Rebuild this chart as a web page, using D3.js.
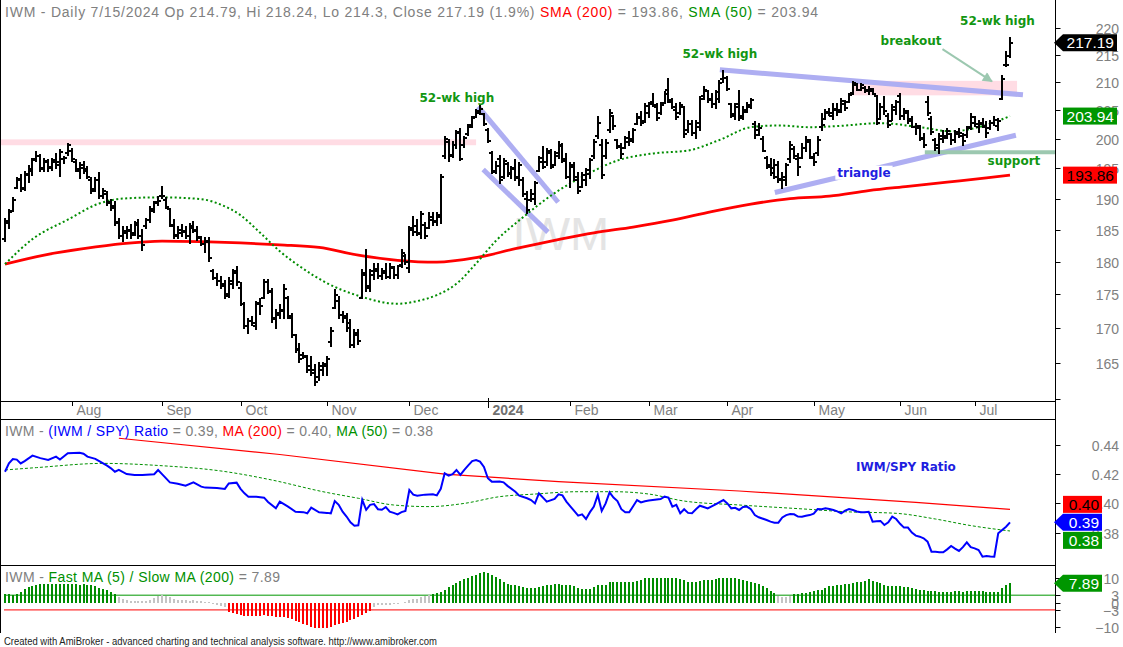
<!DOCTYPE html>
<html>
<head>
<meta charset="utf-8">
<script src="https://cdn.jsdelivr.net/npm/d3@7"></script>
<style>
  body { margin: 0; background: #fff; overflow: hidden; }
  svg { display: block; }
</style>
</head>
<body>
<svg id="chart"></svg>
<script>
// daily bars, 7 Jul 2023 .. 15 Jul 2024 (one row per month)
const opens = [
  183.5,186.0,188.0,191.8,193.2,191.8,193.8,194.5,196.5,197.0,195.0,196.0,195.2,196.0,196.0,196.5,197.5,
  198.0,196.0,194.5,195.0,194.8,193.0,191.5,193.0,190.5,190.8,189.5,188.8,186.2,184.0,184.5,184.8,184.5,185.8,184.0,185.5,186.5,188.0,189.5,
  190.5,189.8,188.3,185.5,184.0,184.5,184.8,184.0,185.2,185.0,183.8,182.8,183.0,178.5,177.5,177.0,176.5,175.0,176.5,178.5,
  176.0,173.5,170.3,171.0,170.3,173.5,174.5,176.8,175.5,171.5,172.0,172.5,174.5,171.5,169.0,167.0,166.2,165.8,164.5,164.0,163.0,164.0,
  164.5,168.0,173.0,174.0,172.0,171.8,170.8,167.5,169.0,174.5,178.0,176.0,178.0,178.5,177.8,178.3,177.6,179.0,178.0,179.5,180.8,
  179.0,185.0,185.5,184.3,185.8,185.3,186.5,186.2,187.0,197.0,199.5,197.2,199.0,201.0,199.0,200.8,202.0,203.8,204.5,204.3,
  201.5,197.5,194.5,196.5,193.5,195.8,194.2,195.0,193.5,193.0,190.0,189.8,190.0,194.5,196.0,196.0,197.5,195.6,197.0,198.8,196.2,
  193.5,195.2,193.0,191.9,193.0,194.0,197.0,200.5,199.0,197.0,201.5,204.0,199.8,198.8,198.5,199.5,200.0,202.6,203.6,203.0,
  204.5,206.5,205.5,204.5,206.2,208.5,206.8,205.0,204.5,205.5,201.5,202.5,201.0,202.0,207.5,208.4,207.0,206.0,207.0,210.5,
  210.8,206.0,204.0,206.0,204.0,205.0,205.5,202.5,201.5,200.0,196.8,195.6,195.0,195.5,193.0,193.0,196.5,198.3,196.5,196.8,198.5,199.5,
  196.8,197.6,202.0,203.5,204.5,204.5,205.0,205.0,206.0,206.5,208.0,209.5,208.6,209.0,208.5,208.4,207.5,203.5,205.5,204.0,203.0,205.0,
  207.5,204.0,204.5,203.5,202.0,201.8,200.2,206.5,203.5,199.8,199.0,200.0,200.5,200.8,199.8,200.8,200.5,200.6,202.0,
  203.8,202.0,202.5,202.0,201.8,202.8,202.2,207.0,213.0,214.79
];
const highs = [
  186.8,188.3,190.2,193.5,194.0,194.5,195.5,196.8,197.9,197.4,196.8,196.5,196.8,197.6,198.2,197.1,199.3,
  198.4,196.5,196.0,196.2,195.4,193.5,193.5,194.3,191.8,191.2,189.9,189.6,186.9,185.6,185.6,185.9,186.4,186.7,185.1,186.9,188.8,189.6,190.4,
  192.0,190.2,188.5,186.7,185.6,185.9,185.6,186.1,186.4,185.6,184.0,183.8,183.8,178.8,178.3,177.8,177.1,177.6,178.8,179.3,
  176.8,173.8,171.5,171.8,174.0,174.5,177.3,177.3,176.0,172.8,173.5,176.5,174.8,172.3,169.2,167.8,166.6,166.2,166.0,164.8,165.2,165.2,
  166.0,170.1,175.8,174.8,172.5,172.3,171.3,169.9,169.9,178.8,181.9,178.8,179.8,179.8,179.0,179.8,179.8,179.3,179.5,181.9,181.2,
  185.6,187.2,186.7,188.0,186.2,187.8,187.8,187.8,194.0,200.5,199.9,199.6,201.6,201.9,200.5,202.6,203.9,205.1,205.9,204.5,
  201.9,197.9,196.2,197.3,196.8,196.0,195.4,196.5,196.0,193.5,191.2,191.5,192.9,197.1,198.8,198.5,198.2,197.9,199.6,199.3,197.6,
  196.0,196.0,194.3,194.3,195.1,196.8,199.9,203.9,199.9,199.9,205.1,204.2,199.9,199.3,200.5,201.3,201.9,204.5,204.8,206.2,
  206.5,208.0,206.2,206.5,208.3,210.7,207.1,206.2,206.5,205.7,203.3,203.3,203.3,207.4,209.2,208.6,208.0,208.6,210.4,212.2,
  211.0,206.2,206.2,208.6,205.7,206.5,207.1,203.0,202.7,200.5,197.1,196.8,196.5,196.2,194.3,195.9,199.6,198.8,197.6,199.3,200.5,199.9,
  197.6,200.5,204.5,205.1,205.4,206.2,206.2,207.1,206.8,208.0,210.1,209.8,209.8,209.2,209.2,208.9,207.7,206.2,207.4,204.5,206.0,206.8,
  208.0,205.4,205.0,204.0,202.7,202.4,201.0,207.4,204.0,200.2,201.0,201.6,201.9,201.0,201.6,201.9,201.0,202.2,204.5,
  204.0,203.3,203.6,203.0,203.3,204.0,203.6,211.3,215.6,218.24
];
const lows = [
  183.0,185.1,187.8,191.5,191.0,191.2,192.5,193.7,196.0,194.3,194.3,194.3,194.6,194.8,193.5,195.7,197.1,
  196.0,194.3,193.2,194.0,193.2,190.7,191.0,189.9,189.9,188.8,188.0,185.6,183.5,183.0,183.5,183.5,184.0,183.5,181.7,185.1,186.1,187.7,188.8,
  189.9,188.3,185.4,183.5,183.5,183.9,183.5,182.7,184.5,183.2,182.4,181.4,179.9,177.1,176.3,175.8,174.3,174.5,175.8,176.3,
  173.3,169.9,169.2,170.3,169.7,172.0,174.3,175.0,170.8,169.9,171.3,171.3,171.3,168.5,166.4,165.0,165.5,163.6,163.1,161.8,162.4,163.1,
  163.1,167.3,172.8,171.3,170.8,169.4,167.1,167.1,167.6,174.3,175.3,175.3,177.1,177.3,177.1,177.3,177.3,177.3,177.3,179.0,179.5,
  178.3,184.0,184.0,183.5,183.5,185.1,185.6,185.6,185.9,196.5,196.0,196.8,198.2,196.2,198.5,200.5,201.9,203.6,204.2,202.2,
  199.3,194.0,194.0,192.4,193.2,193.5,193.2,192.9,192.0,190.2,187.5,189.4,188.9,194.3,194.8,195.4,194.8,195.4,196.5,195.9,193.2,
  191.8,192.9,190.7,191.8,192.1,193.2,196.5,199.9,193.2,196.5,201.0,201.6,198.2,196.5,198.2,198.8,199.3,202.4,202.2,202.7,
  203.6,205.6,203.1,204.2,206.0,206.2,205.1,203.3,204.2,200.2,201.0,200.5,199.9,201.3,206.8,206.2,205.4,205.1,206.2,209.8,
  208.3,203.6,203.3,203.0,203.3,204.5,205.1,199.9,200.5,197.7,194.8,193.7,193.2,192.6,191.5,192.0,195.9,196.5,193.7,196.5,197.7,196.5,
  195.4,197.1,201.3,203.3,203.9,203.3,203.9,204.5,204.8,206.2,207.7,208.3,208.3,208.0,207.7,207.7,202.4,203.3,204.2,201.9,203.0,204.2,
  203.3,203.3,202.5,201.8,200.7,199.6,198.5,203.9,200.7,197.9,197.4,199.3,199.9,199.0,199.3,200.2,198.8,200.2,201.6,
  202.0,201.0,201.9,200.2,201.6,202.2,201.3,206.8,212.8,214.3
];
const closes = [
  186.3,187.9,189.8,193.0,191.6,194.0,194.9,196.4,197.0,194.8,196.2,195.0,196.4,195.5,197.8,196.8,198.9,
  196.5,194.8,195.5,194.5,193.6,191.3,193.0,190.5,191.2,189.3,188.5,186.0,184.0,184.8,185.0,184.2,186.0,184.0,182.5,186.5,188.3,189.2,189.6,
  190.4,188.6,185.8,184.2,185.0,184.6,184.0,185.5,184.8,183.6,182.8,183.2,180.5,177.5,177.0,176.2,174.8,177.0,178.2,176.8,
  173.6,170.3,171.0,170.8,173.7,173.2,176.9,175.4,171.3,172.3,172.6,175.8,171.8,169.0,166.8,165.6,166.0,164.0,163.6,162.3,164.6,164.8,
  165.6,169.6,174.9,172.0,171.5,170.0,167.6,169.3,168.2,178.3,176.3,178.5,178.9,177.8,178.5,177.6,179.2,177.9,179.3,181.4,180.0,
  185.2,184.6,184.4,187.5,184.0,187.0,186.3,187.3,193.6,200.0,197.0,199.0,201.2,196.6,200.2,202.3,203.6,204.8,205.2,202.6,
  199.6,194.3,195.4,193.0,196.3,194.0,194.8,193.4,195.5,190.8,188.2,190.8,192.5,196.8,195.3,198.0,195.3,197.5,198.9,196.5,193.6,
  195.6,193.5,191.2,193.8,194.7,196.4,199.5,202.8,193.8,199.3,204.5,202.2,198.6,197.4,200.1,199.6,201.5,203.8,202.7,205.7,
  206.0,205.8,203.6,205.9,207.8,206.5,205.6,203.8,205.9,200.8,202.6,201.0,202.8,206.9,208.6,206.8,206.0,208.2,209.9,210.8,
  208.8,204.3,205.6,203.6,204.6,205.9,206.7,200.6,201.8,198.0,195.2,194.2,193.6,193.2,193.6,195.5,199.0,197.0,195.2,198.5,199.8,196.9,
  196.0,199.8,202.3,204.6,204.0,205.2,204.6,206.6,205.3,207.6,209.8,208.6,209.5,208.4,208.8,207.9,202.8,205.6,204.8,202.3,205.6,206.5,
  204.0,204.8,203.0,202.0,202.2,200.0,199.0,204.4,201.2,198.5,200.4,200.2,201.3,199.8,201.2,201.0,199.6,201.8,202.8,
  202.5,202.8,202.2,201.0,202.8,203.3,203.0,210.5,213.1,217.19
];

// moving averages: [bar index, value]
const sma200 = [[0,179.6],[10,181.0],[20,182.0],[30,182.8],[40,183.2],[50,183.1],[60,182.9],[70,182.6],[80,182.2],
  [90,181.0],[100,180.2],[110,179.9],[120,180.6],[130,182.0],[140,183.3],[150,184.5],[160,185.4],[170,186.5],
  [180,187.9],[190,189.1],[200,190.0],[210,190.4],[220,191.3],[230,192.0],[240,192.7],[250,193.4],[256,193.86]];
const sma50 = [[0,179.6],[7,183.5],[16,186.6],[24,189.2],[30,190.0],[40,190.2],[50,189.9],[55,189.0],[60,187.3],
  [65,184.5],[70,181.6],[75,179.3],[82,176.7],[90,174.8],[100,173.6],[105,174.0],[110,174.9],[115,176.6],
  [120,179.7],[125,183.2],[132,187.0],[140,190.9],[148,193.9],[156,196.3],[165,197.5],[174,198.0],[182,199.8],
  [190,202.0],[197,202.3],[205,202.0],[212,202.2],[223,202.7],[233,202.0],[241,201.3],[250,202.4],[256,203.94]];

// IWM / SPY ratio
const ratio = [[0,.4217],[1,.4274],[2,.4304],[3,.4300],[4,.4274],[5,.4290],[7,.4327],[9,.4310],[11,.4297],[13,.4320],
  [14,.4300],[16,.4343],[19,.4347],[20,.4340],[21,.4320],[23,.4305],[24,.4290],[26,.4258],[27,.4240],[28,.4217],
  [29,.4229],[31,.4201],[33,.4195],[35,.4195],[38,.4200],[39,.4229],[40,.4200],[42,.4144],[44,.4135],[46,.4121],
  [48,.4144],[50,.4115],[51,.4108],[54,.4105],[56,.4099],[57,.4137],[59,.4142],[60,.4100],[61,.4069],[62,.4046],
  [64,.4045],[66,.4039],[67,.4010],[69,.3966],[70,.4012],[72,.3980],[74,.3943],[76,.3940],[77,.3932],[78,.3971],
  [80,.3939],[82,.3935],[83,.3932],[84,.4016],[85,.3990],[86,.3943],[87,.3910],[88,.3870],[89,.3847],[90,.3850],
  [91,.4024],[92,.3956],[93,.3990],[94,.3995],[95,.3960],[96,.3956],[97,.3975],[98,.3943],[99,.3935],[100,.3925],
  [101,.3940],[102,.3948],[103,.4092],[104,.4060],[105,.4053],[107,.4060],[109,.4062],[110,.4055],[111,.4100],
  [112,.4206],[113,.4190],[114,.4200],[115,.4229],[116,.4195],[117,.4230],[118,.4260],[119,.4290],[120,.4297],
  [121,.4286],[122,.4250],[123,.4172],[124,.4149],[126,.4150],[127,.4144],[128,.4120],[130,.4080],[131,.4053],
  [133,.4035],[134,.4023],[135,.4000],[136,.4069],[138,.4012],[140,.4030],[141,.4062],[142,.4055],[143,.4012],
  [144,.3980],[146,.3916],[147,.3925],[148,.3893],[149,.3940],[150,.3978],[151,.4058],[152,.3948],[153,.4000],
  [154,.4076],[155,.4040],[156,.4016],[157,.3960],[158,.3939],[159,.3939],[160,.3980],[161,.4023],[162,.4007],
  [163,.4015],[164,.4020],[165,.4023],[167,.4030],[168,.4046],[169,.4040],[170,.3978],[171,.3990],[172,.3932],
  [173,.3960],[174,.3935],[175,.3932],[176,.3960],[177,.3984],[178,.3975],[179,.3966],[180,.3980],[181,.3994],
  [183,.4023],[184,.4000],[185,.3966],[186,.3970],[187,.3955],[188,.3975],[189,.3978],[190,.3960],[191,.3920],
  [192,.3905],[194,.3886],[195,.3875],[196,.3868],[197,.3868],[198,.3904],[199,.3920],[200,.3927],[201,.3925],
  [202,.3910],[203,.3909],[204,.3915],[205,.3920],[206,.3930],[207,.3961],[208,.3960],[209,.3966],[210,.3962],
  [211,.3955],[212,.3945],[213,.3932],[214,.3950],[215,.3961],[216,.3955],[217,.3945],[218,.3939],[219,.3940],
  [220,.3943],[221,.3875],[222,.3878],[223,.3880],[224,.3852],[225,.3870],[226,.3909],[227,.3893],[228,.3860],
  [229,.3834],[230,.3834],[231,.3800],[232,.3779],[233,.3772],[234,.3761],[235,.3738],[236,.3669],[237,.3668],
  [238,.3666],[239,.3665],[240,.3685],[241,.3708],[242,.3690],[243,.3674],[244,.3700],[245,.3733],[246,.3700],
  [247,.3692],[248,.3681],[249,.3635],[250,.3640],[251,.3636],[252,.3635],[253,.3795],[254,.3818],[255,.3840],[256,.3870]];
const ratioMa200 = [[29,.4446],[70,.4335],[112,.4200],[141,.4149],[187,.4085],[232,.4007],[256,.3959]];
const ratioMa50 = [[0,.4229],[8,.4245],[25,.4274],[40,.4258],[55,.4222],[68,.4160],[81,.4080],[90,.4035],
  [99,.3989],[108,.3978],[117,.4000],[126,.4046],[135,.4064],[146,.4080],[155,.4080],[164,.4064],[173,.4016],
  [187,.3989],[205,.3959],[214,.3943],[227,.3932],[237,.3893],[246,.3848],[256,.3811]];

// Fast MA(5) / Slow MA(200) histogram
const fastSlow = [
  3.3,3.3,3.2,3.3,4.4,5.4,6.3,6.9,7.2,7.4,7.5,7.4,7.4,7.5,7.4,7.4,7.5,
  7.4,7.4,7.3,7.4,7.3,7.2,6.6,6.0,5.5,5.0,4.3,3.6,2.4,1.4,1.0,0.8,0.8,0.6,0.5,0.7,1.2,1.8,2.5,
  3.0,2.8,2.4,1.6,1.2,1.0,0.9,0.8,0.9,0.8,0.5,0.4,0.2,-0.6,-1.0,-1.5,-2.0,-3.7,-4.2,-4.5,
  -5.1,-5.3,-5.4,-5.5,-5.5,-5.4,-5.2,-5.3,-5.5,-5.7,-5.8,-5.8,-6.3,-6.8,-7.4,-8.0,-8.6,-9.2,-9.8,-10.3,-10.4,-10.3,
  -10.2,-9.8,-9.2,-8.8,-8.2,-7.8,-7.2,-6.6,-6.0,-5.1,-4.4,-3.5,-1.7,-1.2,-1.0,-1.0,-0.8,-0.7,-0.5,-0.3,0.4,
  1.0,1.4,1.6,2.2,2.7,3.0,3.3,3.7,4.4,5.3,6.4,7.2,7.8,8.6,9.4,10.1,10.8,11.3,11.9,12.3,
  12.0,11.2,10.4,9.4,8.2,7.6,7.2,7.0,6.8,6.4,6.0,5.8,6.0,6.4,6.8,7.0,7.2,7.4,7.4,7.2,7.0,
  7.0,6.6,5.8,5.5,5.5,5.6,6.4,7.0,7.1,7.2,8.2,8.4,8.4,8.3,8.2,8.3,8.4,8.6,9.2,9.8,
  10.1,10.2,10.2,10.1,10.2,10.2,10.0,9.8,9.6,9.0,8.5,8.4,8.4,8.6,9.0,9.1,9.1,9.4,9.9,10.1,
  10.1,10.0,9.8,9.6,9.0,8.6,8.4,8.0,7.4,6.6,5.8,4.8,4.0,2.8,2.4,2.4,2.6,3.3,3.5,3.7,4.0,4.4,
  4.6,5.0,5.2,6.0,6.6,6.9,7.0,7.0,7.4,7.6,8.0,8.2,8.4,8.9,9.4,8.8,8.4,8.0,7.2,6.9,6.9,6.8,
  6.6,6.5,6.4,6.0,5.5,5.1,5.0,4.9,4.8,4.6,4.5,4.4,4.4,4.4,4.6,4.6,4.5,4.6,4.7,
  4.6,4.6,4.6,4.5,4.5,4.4,4.3,6.0,7.0,7.89
];

const monthLabels = ['Aug','Sep','Oct','Nov','Dec','2024','Feb','Mar','Apr','May','Jun','Jul'];
const monthStart = [17,40,60,82,103,123,144,164,184,206,228,247];
const priceTicks = [160,165,170,175,180,185,190,195,200,205,210,215,220];
const ratioTicks = [0.38,0.40,0.42,0.44];
const histTicks = [-10,-3,0,3,10];

// annotations in bar index / price
const bands = [{i0:-3, i1:120, lo:198.9, hi:199.9}, {i0:215.7, i1:257.8, lo:207.6, hi:210.2}];
const trendLines = [
  [[120.5,205.6],[140.9,189.4]],
  [[121.8,194.8],[138.3,184.6]],
  [[182.1,212.2],[259.3,207.7]],
  [[196.1,191.0],[257.5,200.6]]
];
const notes = [
  {t:'52-wk high', i:115.1, p:206.5, c:'#129612'},
  {t:'52-wk high', i:182.1, p:214.4, c:'#129612'},
  {t:'52-wk high', i:252.8, p:220.5, c:'#129612'},
  {t:'breakout',   i:230.8, p:216.8, c:'#129612'},
  {t:'support',    i:257.0, p:195.5, c:'#129612'},
  {t:'triangle',   i:218.8, p:193.6, c:'#2020e0', bg:true}
];

const W = 1123, H = 647;
const axisX = 1055.5;
const gray = '#808080';
const svg = d3.select('#chart').attr('width', W).attr('height', H)
  .style('font-family', '"Liberation Sans", Arial, sans-serif');

const x = d3.scaleLinear().domain([0, 256]).range([5, 1010]);
const y = d3.scaleLog().domain([159.7, 225.3]).range([401, 0]);
const yR = d3.scaleLinear().domain([0.3578, 0.4578]).range([565, 419]);
const yH = d3.scaleLinear().domain([-12, 15.3]).range([632, 565]);

const defs = svg.append('defs');
[['clipP', 0, 401], ['clipR', 419, 565], ['clipH', 565, 632]].forEach(([id, t, b]) => {
  defs.append('clipPath').attr('id', id).append('rect')
    .attr('x', 1).attr('y', t).attr('width', axisX - 1).attr('height', b - t);
});
defs.append('marker').attr('id', 'arrow').attr('viewBox', '0 0 10 10')
  .attr('refX', 9).attr('refY', 5).attr('markerWidth', 6).attr('markerHeight', 5)
  .attr('orient', 'auto')
  .append('path').attr('d', 'M0,0 L10,5 L0,10 Z').attr('fill', '#9cc8b0');

svg.append('rect').attr('width', W).attr('height', H).attr('fill', '#fff');

// ---------- price panel ----------
const gp = svg.append('g').attr('clip-path', 'url(#clipP)');

gp.append('text').attr('x', x(141.6)).attr('y', y(181.8))
  .attr('text-anchor', 'middle').attr('font-size', 47).attr('fill', '#e4e4e4').text('IWM');

gp.selectAll('.band').data(bands).enter().append('rect')
  .attr('x', d => x(d.i0)).attr('width', d => x(d.i1) - x(d.i0))
  .attr('y', d => y(d.hi)).attr('height', d => y(d.lo) - y(d.hi))
  .attr('fill', '#ffdce4');

gp.selectAll('.trend').data(trendLines).enter().append('line')
  .attr('x1', d => x(d[0][0])).attr('y1', d => y(d[0][1]))
  .attr('x2', d => x(d[1][0])).attr('y2', d => y(d[1][1]))
  .attr('stroke', '#aeaef2').attr('stroke-width', 5);

// support line and breakout arrow
gp.append('line').attr('x1', x(234.3)).attr('x2', axisX).attr('y1', y(197.7)).attr('y2', y(197.7))
  .attr('stroke', '#9cc8b0').attr('stroke-width', 4);
gp.append('line').attr('x1', x(238.8)).attr('y1', y(216.0)).attr('x2', x(251.4)).attr('y2', y(210.1))
  .attr('stroke', '#9cc8b0').attr('stroke-width', 2).attr('marker-end', 'url(#arrow)');

const maLine = d3.line().x(d => x(d[0])).y(d => y(d[1])).curve(d3.curveMonotoneX);
gp.append('path').attr('d', maLine(sma200)).attr('fill', 'none')
  .attr('stroke', '#ff0000').attr('stroke-width', 2.8);
gp.append('path').attr('d', maLine(sma50)).attr('fill', 'none')
  .attr('stroke', '#008c00').attr('stroke-width', 2).attr('stroke-dasharray', '2,2.5');

// OHLC bars
gp.append('g').attr('shape-rendering', 'crispEdges')
  .selectAll('path').data(closes).enter().append('path')
  .attr('d', (c, i) => {
    const xi = Math.round(x(i));
    return `M${xi},${y(highs[i])}V${y(lows[i])}` +
      `M${xi - 3},${Math.round(y(opens[i]))}H${xi}M${xi},${Math.round(y(c))}H${xi + 3}`;
  })
  .attr('fill', 'none').attr('stroke', '#000').attr('stroke-width', 2);

// labels
notes.forEach(n => {
  const t = gp.append('text').attr('x', x(n.i)).attr('y', y(n.p))
    .attr('text-anchor', 'middle').attr('font-family', '"DejaVu Sans", Verdana, sans-serif')
    .attr('font-weight', 'bold').attr('font-size', 12).attr('fill', n.c).text(n.t);
  if (n.bg) {
    const b = t.node().getBBox();
    gp.insert('rect', () => t.node()).attr('x', b.x - 2).attr('y', b.y)
      .attr('width', b.width + 4).attr('height', b.height).attr('fill', '#fff');
  }
});

// ---------- ratio panel ----------
const gr = svg.append('g').attr('clip-path', 'url(#clipR)');
const rLine = d3.line().x(d => x(d[0])).y(d => yR(d[1]));
gr.append('path').attr('d', rLine(ratioMa200)).attr('fill', 'none')
  .attr('stroke', '#ff0000').attr('stroke-width', 1.2);
gr.append('path').attr('d', rLine.curve(d3.curveMonotoneX)(ratioMa50)).attr('fill', 'none')
  .attr('stroke', '#009000').attr('stroke-width', 1).attr('stroke-dasharray', '3,2');
gr.append('path').attr('d', d3.line().x(d => x(d[0])).y(d => yR(d[1]))(ratio)).attr('fill', 'none')
  .attr('stroke', '#0000ff').attr('stroke-width', 2);
gr.append('text').attr('x', x(229.5)).attr('y', yR(0.4222)).attr('text-anchor', 'middle')
  .attr('font-family', '"DejaVu Sans", Verdana, sans-serif').attr('font-weight', 'bold')
  .attr('font-size', 12).attr('fill', '#1e1ee0').text('IWM/SPY Ratio');

// ---------- fast/slow histogram ----------
const gh = svg.append('g').attr('clip-path', 'url(#clipH)');
gh.append('line').attr('x1', 4).attr('x2', axisX).attr('y1', yH(3)).attr('y2', yH(3))
  .attr('stroke', '#009600').attr('stroke-width', 1);
gh.append('line').attr('x1', 4).attr('x2', axisX).attr('y1', yH(-3)).attr('y2', yH(-3))
  .attr('stroke', '#ff0000').attr('stroke-width', 1);
gh.append('g').attr('shape-rendering', 'crispEdges')
  .selectAll('line').data(fastSlow).enter().append('line')
  .attr('x1', (d, i) => Math.round(x(i))).attr('x2', (d, i) => Math.round(x(i)))
  .attr('y1', Math.round(yH(0))).attr('y2', d => Math.round(yH(d)))
  .attr('stroke', d => d > 3 ? '#008c00' : d < -3 ? '#ff0000' : '#c4c4c4')
  .attr('stroke-width', 2);

// ---------- frame & axes ----------
const frame = svg.append('g').attr('stroke', '#000').attr('stroke-width', 1);
frame.append('line').attr('x1', 0.5).attr('x2', 0.5).attr('y1', 0).attr('y2', 633);
frame.append('line').attr('x1', axisX).attr('x2', axisX).attr('y1', 0).attr('y2', 633);
[401.5, 419.5, 565.5].forEach(v => frame.append('line')
  .attr('x1', 0).attr('x2', axisX).attr('y1', v).attr('y2', v));

// date axis
const dAx = svg.append('g');
monthStart.forEach((m, k) => {
  const xm = Math.round(x(m)) + 0.5;
  const yr = monthLabels[k] === '2024';
  dAx.append('line').attr('x1', xm).attr('x2', xm).attr('y1', yr ? 398 : 401).attr('y2', yr ? 408 : 406)
    .attr('stroke', '#000');
  dAx.append('text').attr('x', xm + 4).attr('y', 415).attr('font-size', 14)
    .attr('font-weight', yr ? 'bold' : 'normal').attr('fill', yr ? '#707070' : gray)
    .text(monthLabels[k]);
});

// right-hand axes
const rAx = svg.append('g');
function tickSet(vals, sc, fmt, showLabel) {
  vals.forEach(v => {
    const yy = Math.round(sc(v)) + 0.5;
    rAx.append('line').attr('x1', axisX).attr('x2', axisX + 5).attr('y1', yy).attr('y2', yy)
      .attr('stroke', '#000');
    if (showLabel(v)) rAx.append('text').attr('x', 1119).attr('y', yy + 5).attr('text-anchor', 'end')
      .attr('font-size', 14).attr('fill', gray).text(fmt(v));
  });
}
tickSet(priceTicks, y, d3.format('d'), v => v >= 165);
tickSet(ratioTicks, yR, d3.format('.2f'), () => true);
tickSet(histTicks, yH, d3.format('d'), () => true);

// value tags
function tag(yv, txt, fill, color, pointer, right) {
  const t = yv - 8.5, b = yv + 8.5;
  if (pointer) {
    rAx.append('polygon').attr('points', `1054,${yv} 1063,${t} ${right},${t} ${right},${b} 1063,${b}`)
      .attr('fill', fill);
  } else {
    rAx.append('rect').attr('x', 1063).attr('y', t).attr('width', right - 1063).attr('height', 17)
      .attr('fill', fill);
  }
  rAx.append('text').attr('x', right - 3).attr('y', yv + 5.5).attr('text-anchor', 'end')
    .attr('font-size', 15.5).attr('fill', color).text(txt);
}
const lastI = closes.length - 1;
tag(y(closes[lastI]), '217.19', '#000', '#fff', true, 1117);
tag(y(sma50[sma50.length - 1][1]), '203.94', '#009600', '#fff', false, 1117);
tag(y(sma200[sma200.length - 1][1]), '193.86', '#ff0000', '#000', false, 1117);
const yBlue = yR(ratio[ratio.length - 1][1]);
tag(yBlue - 18, '0.40', '#ff0000', '#000', false, 1102);
tag(yBlue, '0.39', '#0000ff', '#fff', true, 1102);
tag(yBlue + 18, '0.38', '#009600', '#fff', false, 1102);
tag(yH(fastSlow[lastI]), '7.89', '#009600', '#fff', true, 1102);

// ---------- titles ----------
function title(yPos, len, parts) {
  const t = svg.append('text').attr('x', 5).attr('y', yPos).attr('font-size', 14)
    .attr('textLength', len).attr('lengthAdjust', 'spacing');
  parts.forEach(([s, c]) => t.append('tspan').attr('fill', c).text(s));
}
title(17, 813, [
  ['IWM - Daily 7/15/2024 Op 214.79, Hi 218.24, Lo 214.3, Close 217.19 (1.9%) ', gray],
  ['SMA (200)', '#ff0000'], [' = 193.86, ', gray], ['SMA (50)', '#009000'], [' = 203.94', gray]
]);
title(436, 428, [
  ['IWM - ', gray], ['(IWM / SPY) Ratio', '#0000ff'], [' = 0.39, ', gray],
  ['MA (200)', '#ff0000'], [' = 0.40, ', gray], ['MA (50)', '#009000'], [' = 0.38', gray]
]);
title(582, 275, [
  ['IWM - ', gray], ['Fast MA (5) / Slow MA (200)', '#009000'], [' = 7.89', gray]
]);

svg.append('text').attr('x', 4).attr('y', 645).attr('font-size', 10.5).attr('fill', '#222')
  .attr('textLength', 433).attr('lengthAdjust', 'spacingAndGlyphs')
  .text('Created with AmiBroker - advanced charting and technical analysis software. http://www.amibroker.com');
</script>
</body>
</html>
